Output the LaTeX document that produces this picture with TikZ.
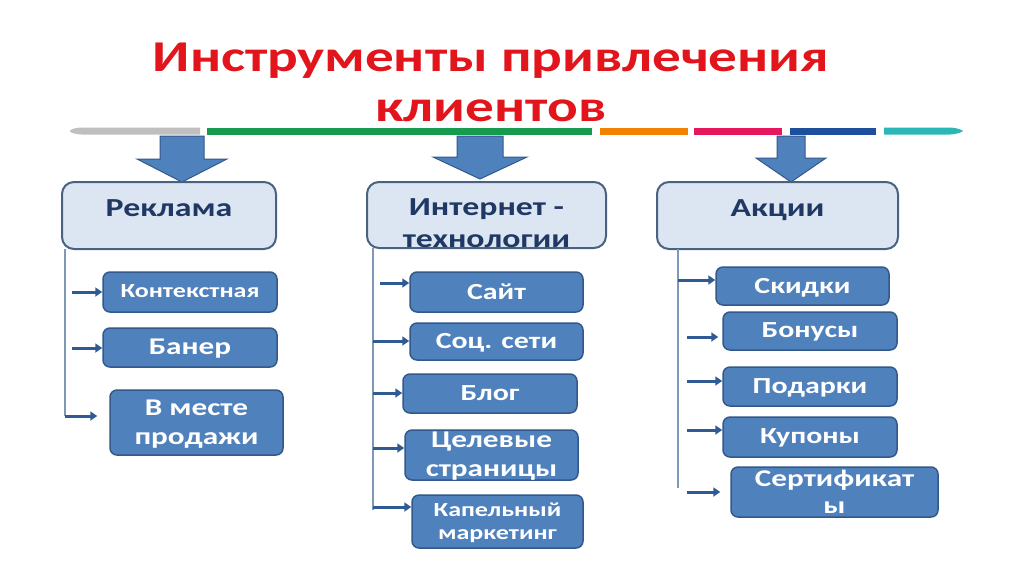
\documentclass[tikz,border=0pt]{standalone}
\usepackage{fontspec}
\setmainfont{Carlito}[FakeStretch=1.3]
\usetikzlibrary{arrows.meta}
\definecolor{titlered}{HTML}{E2141C}
\definecolor{hdrfill}{HTML}{DCE6F2}
\definecolor{hdrborder}{HTML}{4A6282}
\definecolor{hdrtext}{HTML}{1F3864}
\definecolor{subfill}{HTML}{4F81BD}
\definecolor{subborder}{HTML}{33598A}
\definecolor{arrowc}{HTML}{2F5A93}
\definecolor{vline}{HTML}{7F97B8}
\definecolor{bigarrow}{HTML}{4F81BD}
\definecolor{segGray}{HTML}{BFBFBF}
\definecolor{segGreen}{HTML}{169B4E}
\definecolor{segOrange}{HTML}{F28200}
\definecolor{segPink}{HTML}{E5185E}
\definecolor{segBlue}{HTML}{1D4F9C}
\definecolor{segTeal}{HTML}{2DB6B6}
\tikzset{
  hdrbox/.style={draw=hdrborder, fill=hdrfill, line width=2pt, rounded corners=12pt, inner sep=0pt},
  hdrlabel/.style={text=hdrtext, font=\bfseries\fontsize{26}{32}\selectfont, align=center, inner sep=0pt},
  subbox/.style={draw=subborder, fill=subfill, line width=1.5pt, rounded corners=7pt, inner sep=0pt, text=white, align=center, text depth=0.1em, font=\bfseries\fontsize{23}{29}\selectfont},
  arr/.style={draw=arrowc, line width=3pt, -{Triangle[length=7pt,width=9pt]}},
  vl/.style={draw=vline, line width=1.5pt},
  bigarr/.style={fill=bigarrow, draw=subborder, line width=1pt}
}
\begin{document}
\begin{tikzpicture}[x=1pt,y=-1pt]
\useasboundingbox[fill=white] (0,0) rectangle (1024,574);

% title
\node[text=titlered, font=\bfseries\fontsize{44}{50}\selectfont, align=center] (title) at (491,82) {Инструменты привлечения\\клиентов};

% colour bar
\fill[segGray] (200,127.5) -- (82,127.5) .. controls (72,128) and (70,130) .. (70,131) .. controls (70,132) and (72,134) .. (82,134.5) -- (200,134.5) -- cycle;
\fill[segGreen] (207,127.5) rectangle (592,134.5);
\fill[segOrange] (600,127.5) rectangle (688,134.5);
\fill[segPink] (694,127.5) rectangle (782,134.5);
\fill[segBlue] (790,127.5) rectangle (876,134.5);
\fill[segTeal] (884,127.5) -- (950,127.5) .. controls (958,128) and (962,130) .. (963,131) .. controls (962,132) and (958,134) .. (950,134.5) -- (884,134.5) -- cycle;

% big arrows
\draw[bigarr] (160,136) -- (204,136) -- (204,159) -- (227,159) -- (182,182) -- (137,159) -- (160,159) -- cycle;
\draw[bigarr] (457,136) -- (503,136) -- (503,157) -- (527,157) -- (480,179) -- (433,157) -- (457,157) -- cycle;
\draw[bigarr] (777,136) -- (805,136) -- (805,158) -- (826,158) -- (791,182) -- (756,158) -- (777,158) -- cycle;

% header boxes
\node[hdrbox, minimum width=214pt, minimum height=67pt] (r) at (169,215.5) {};
\node[hdrlabel, anchor=base] (rt) at (169,216) {Реклама};
\node[hdrbox, minimum width=239pt, minimum height=66pt] (n) at (486.5,215) {};
\node[hdrlabel, anchor=base] (nt1) at (486.5,215) {Интернет -};
\node[hdrlabel, anchor=base] (nt2) at (486.5,247) {технологии};
\node[hdrbox, minimum width=241pt, minimum height=67pt] (k) at (777.5,215.5) {};
\node[hdrlabel, anchor=base] (kt) at (777.5,216) {Акции};

% vertical lines
\coordinate (v1t) at (65,249);
\coordinate (v1b) at (65,416);
\coordinate (v2t) at (373,248);
\coordinate (v2b) at (373,510);
\coordinate (v3t) at (678,249);
\coordinate (v3b) at (678,488);
\draw[vl] (v1t) -- (v1b);
\draw[vl] (v2t) -- (v2b);
\draw[vl] (v3t) -- (v3b);

% column 1
\node[subbox, minimum width=174pt, minimum height=40pt, font=\bfseries\fontsize{20}{24}\selectfont] (c1) at (190,292) {Контекстная};
\node[subbox, minimum width=174pt, minimum height=39pt, font=\bfseries\fontsize{24}{29}\selectfont] (c2) at (190,347.5) {Банер};
\node[subbox, minimum width=173pt, minimum height=65pt, font=\bfseries\fontsize{24}{29}\selectfont] (c3) at (196.5,422.5) {В месте\\продажи};
\coordinate (s1) at (72,292);
\coordinate (s2) at (72,348);
\coordinate (s3) at (65,416);
\draw[arr] (s1) -- (s1 -| c1.west);
\draw[arr] (s2) -- (s2 -| c2.west);
\draw[arr] (s3) -- ([xshift=-12pt]s3 -| c3.west);

% column 2
\node[subbox, minimum width=173pt, minimum height=40pt] (i1) at (496.5,292) {Сайт};
\node[subbox, minimum width=173pt, minimum height=37pt] (i2) at (496.5,341.5) {Соц. сети};
\node[subbox, minimum width=174pt, minimum height=39pt] (i3) at (490,393.5) {Блог};
\node[subbox, minimum width=173pt, minimum height=50pt, font=\bfseries\fontsize{24}{29}\selectfont] (i4) at (491.5,455) {Целевые\\страницы};
\node[subbox, minimum width=171pt, minimum height=53pt, font=\bfseries\fontsize{20}{23}\selectfont] (i5) at (497.5,521.5) {Капельный\\маркетинг};
\coordinate (t1) at (380,283);
\coordinate (t2) at (373,341);
\coordinate (t3) at (373,393);
\coordinate (t4) at (373,448);
\coordinate (t5) at (373,507);
\draw[arr] (t1) -- (t1 -| i1.west);
\draw[arr] (t2) -- (t2 -| i2.west);
\draw[arr] (t3) -- (t3 -| i3.west);
\draw[arr] (t4) -- (t4 -| i4.west);
\draw[arr] (t5) -- (t5 -| i5.west);

% column 3
\node[subbox, minimum width=173pt, minimum height=38pt] (a1) at (802.5,286) {Скидки};
\node[subbox, minimum width=174pt, minimum height=38pt] (a2) at (810,331) {Бонусы};
\node[subbox, minimum width=174pt, minimum height=39pt] (a3) at (810,386.5) {Подарки};
\node[subbox, minimum width=174pt, minimum height=40pt] (a4) at (810,437) {Купоны};
\node[subbox, minimum width=207pt, minimum height=50pt, font=\bfseries\fontsize{24}{27}\selectfont] (a5) at (834.5,492) {Сертификат\\ы};
\coordinate (u1) at (678,280);
\coordinate (u2) at (687,337);
\coordinate (u3) at (687,381);
\coordinate (u4) at (687,430);
\coordinate (u5) at (687,492);
\draw[arr] (u1) -- (u1 -| a1.west);
\draw[arr] (u2) -- ([xshift=-4pt]u2 -| a2.west);
\draw[arr] (u3) -- (u3 -| a3.west);
\draw[arr] (u4) -- (u4 -| a4.west);
\draw[arr] (u5) -- ([xshift=-10pt]u5 -| a5.west);
\end{tikzpicture}
\end{document}
